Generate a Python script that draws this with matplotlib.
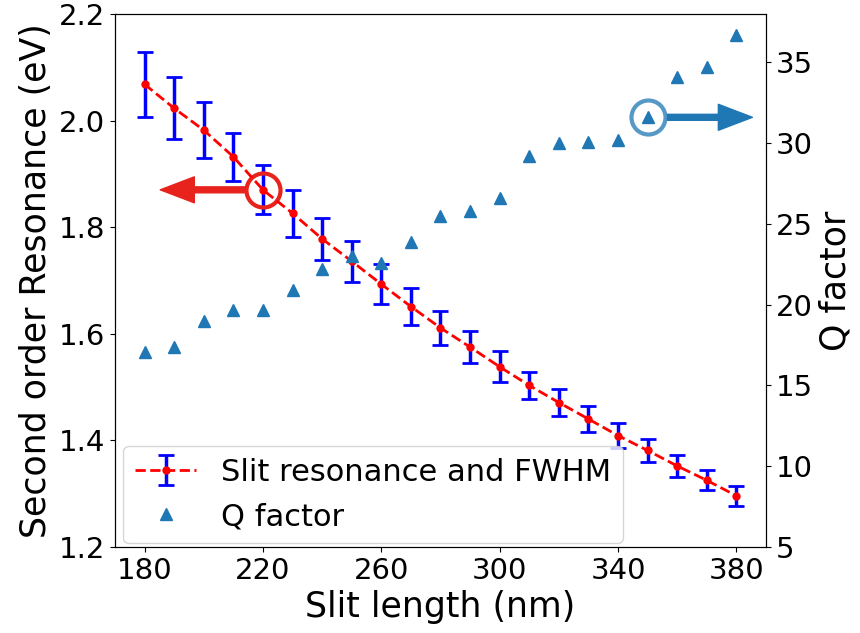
import matplotlib
matplotlib.use("Agg")
import matplotlib.pyplot as plt

# slit length (nm)
slit_length = [180, 190, 200, 210, 220, 230, 240, 250, 260, 270, 280,
               290, 300, 310, 320, 330, 340, 350, 360, 370, 380]
# second order resonance (eV) and half FWHM error (eV)
resonance = [2.068, 2.023, 1.982, 1.932, 1.870, 1.826, 1.778, 1.736, 1.693, 1.651, 1.611,
             1.575, 1.538, 1.503, 1.471, 1.440, 1.409, 1.381, 1.352, 1.325, 1.296]
fwhm_err = [0.061, 0.058, 0.052, 0.045, 0.046, 0.044, 0.040, 0.038, 0.038, 0.034, 0.032,
            0.030, 0.029, 0.026, 0.025, 0.025, 0.024, 0.022, 0.021, 0.019, 0.019]
# Q factor
q_factor = [17.1, 17.4, 19.0, 19.7, 19.7, 20.9, 22.2, 23.0, 22.6, 23.9, 25.5,
            25.8, 26.6, 29.2, 30.0, 30.1, 30.2, 31.6, 34.1, 34.7, 36.7]

fig, ax = plt.subplots(figsize=(8.6, 6.33), dpi=100)
fig.subplots_adjust(left=0.1337, right=0.8907, top=0.978, bottom=0.1359)

eb = ax.errorbar(slit_length, resonance, yerr=fwhm_err, fmt="o--", color="red",
                 ms=5, lw=2, ecolor="blue", elinewidth=2.5, capsize=6, capthick=2,
                 label="Slit resonance and FWHM")
ax.set_xlim(170, 390)
ax.set_ylim(1.2, 2.2)
ax.set_xticks([180, 220, 260, 300, 340, 380])
ax.set_yticks([1.2, 1.4, 1.6, 1.8, 2.0, 2.2])
ax.set_xlabel("Slit length (nm)", fontsize=25)
ax.set_ylabel("Second order Resonance (eV)", fontsize=25)
ax.tick_params(labelsize=21)

ax2 = ax.twinx()
qline, = ax2.plot(slit_length, q_factor, "^", color="tab:blue", ms=9, label="Q factor")
ax2.set_ylim(5, 38)
ax2.set_yticks([5, 10, 15, 20, 25, 30, 35])
ax2.set_ylabel("Q factor", fontsize=25)
ax2.tick_params(labelsize=21)

# highlight circles and arrows pointing to the matching axis
i_red = slit_length.index(220)
ax.plot(slit_length[i_red], resonance[i_red], "o", ms=24.5, mfc="none",
        mec="#e8231e", mew=3)
ax.annotate("", xy=(185.3, resonance[i_red]), xytext=(214.4, resonance[i_red]),
            arrowprops=dict(color="#e8231e", width=4.3, headwidth=18.7, headlength=24.5))

i_blue = slit_length.index(350)
ax2.plot(slit_length[i_blue], q_factor[i_blue], "o", ms=24.5, mfc="none",
         mec="tab:blue", mew=3, alpha=0.75)
ax2.annotate("", xy=(385.4, q_factor[i_blue]), xytext=(356.7, q_factor[i_blue]),
             arrowprops=dict(color="tab:blue", width=4.3, headwidth=18.7, headlength=24.5))

ax2.legend(handles=[eb, qline], loc="lower left", bbox_to_anchor=(0.012, 0.007),
           borderaxespad=0, fontsize=22)

fig.savefig("out.png", dpi=100)
